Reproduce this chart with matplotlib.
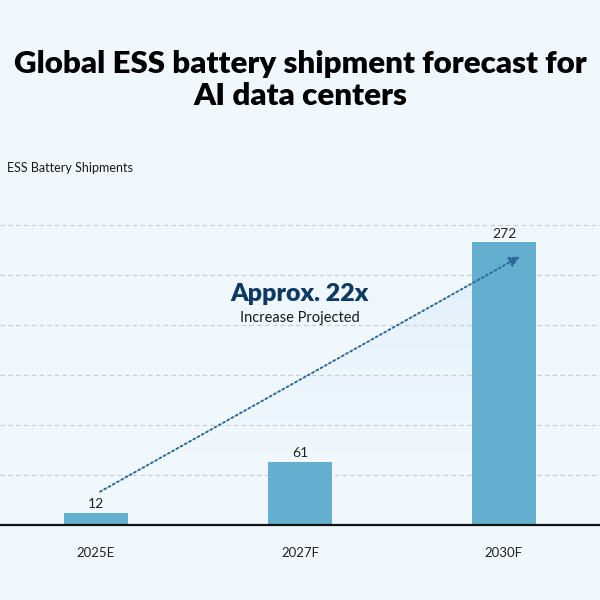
import numpy as np
import matplotlib
matplotlib.use("Agg")
import matplotlib.pyplot as plt
from matplotlib.patches import Polygon

# Chart data
years = ["2025E", "2027F", "2030F"]
shipments = [12, 61, 272]

title = "Global ESS battery shipment forecast for\nAI data centers"
series_label = "ESS Battery Shipments"
growth_text = "Approx. 22x"
growth_sub = "Increase Projected"

BG = "#f0f8fe"
BAR = "#64aed0"
NAVY = "#0c3a64"
DOT = "#2d6a98"

plt.rcParams["font.family"] = ["Lato", "DejaVu Sans"]

fig = plt.figure(figsize=(6, 6), dpi=100, facecolor=BG)
# axes span the whole width: the reference looks like a crop of a wider chart
ax = fig.add_axes([0, 0.125, 1, 0.6417], facecolor=BG)

x = np.arange(len(years))
ax.bar(x, shipments, width=0.314, color=BAR, zorder=3)
for xi, v in zip(x, shipments):
    ax.text(xi, v + 2, str(v), ha="center", va="bottom", fontsize=10,
            color="#222222", zorder=4)

ax.set_xlim(-0.4706, 2.4706)
ax.set_yticks(np.arange(48, 300, 48))
ax.grid(axis="y", color="#c5ccd3", linestyle=(0, (4, 3)), linewidth=0.8, zorder=0)
ax.tick_params(axis="y", left=False, labelleft=False)
ax.set_xticks(x, labels=years)
ax.tick_params(axis="x", length=0, pad=16, labelsize=9.5, labelcolor="#222222")
for s in ["top", "right", "left"]:
    ax.spines[s].set_visible(False)
ax.spines["bottom"].set_color("#111111")
ax.spines["bottom"].set_linewidth(1.6)
ax.spines["bottom"].set_zorder(5)

# growth arrow with a faint shading below it
x0, y0 = 0.02, 32
x1, y1 = 2.078, 258
grad = np.linspace(0.0, 1.0, 256).reshape(-1, 1)
cmap = matplotlib.colors.LinearSegmentedColormap.from_list(
    "shade", [(1, 1, 1, 0), (0.78, 0.88, 0.95, 0.45)])
im = ax.imshow(grad, extent=[x0, x1, 0, y1], origin="lower", aspect="auto",
               cmap=cmap, zorder=1)
tri = Polygon([(x0, y0), (x1, y1), (x1, y1 - 220)], closed=True,
              transform=ax.transData, facecolor="none", edgecolor="none")
ax.add_patch(tri)
im.set_clip_path(tri)
ax.annotate("", xy=(x1, y1), xytext=(x0, y0),
            arrowprops=dict(arrowstyle="-|>", linestyle=(0, (1, 1.5)),
                            color=DOT, lw=1.4, mutation_scale=16,
                            shrinkA=0, shrinkB=0),
            zorder=4)
ax.set_ylim(0, 370)

ax.text(1.0, 222, growth_text, ha="center", va="center", fontsize=18,
        fontweight="heavy", color=NAVY, zorder=4)
ax.text(1.0, 199, growth_sub, ha="center", va="center", fontsize=10.5,
        color="#1a1a1a", zorder=4)

fig.text(0.012, 1 - 168 / 600, series_label, ha="left", va="center",
         fontsize=9, color="#1a1a1a")
fig.text(0.5, 1 - 80 / 600, title, ha="center", va="center", fontsize=22.5,
         fontweight="heavy", color="#000000", linespacing=1.15)

fig.savefig("out.png", dpi=100, facecolor=BG)
